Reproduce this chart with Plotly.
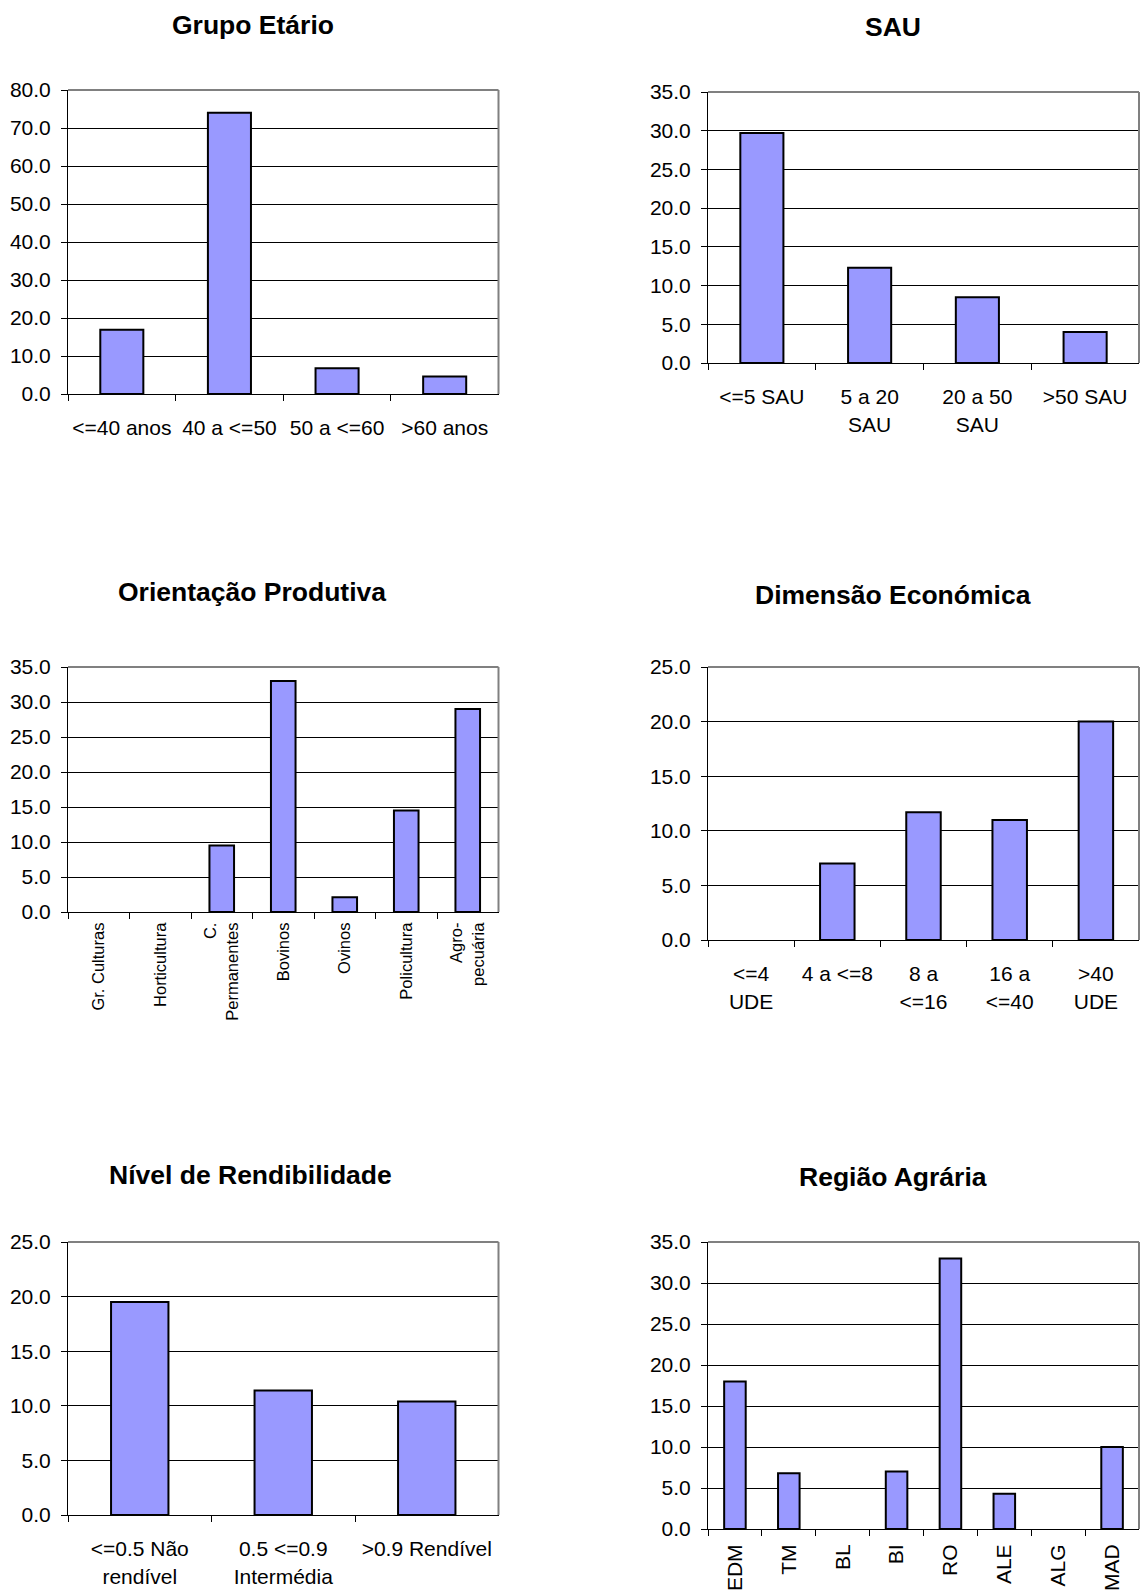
import plotly.graph_objects as go

# ---- data ----
grupo_cats = ["<=40 anos", "40 a <=50", "50 a <=60", ">60 anos"]
grupo_vals = [16.9, 74.0, 6.8, 4.6]

sau_cats = ["<=5 SAU", "5 a 20<br>SAU", "20 a 50<br>SAU", ">50 SAU"]
sau_vals = [29.7, 12.3, 8.5, 4.0]

orient_cats = ["Gr. Culturas", "Horticultura", "C.<br>Permanentes", "Bovinos",
               "Ovinos", "Policultura", "Agro-<br>pecuária"]
orient_vals = [0.0, 0.0, 9.5, 33.0, 2.1, 14.5, 29.0]

dim_cats = ["<=4<br>UDE", "4 a <=8", "8 a<br><=16", "16 a<br><=40", ">40<br>UDE"]
dim_vals = [0.0, 7.0, 11.7, 11.0, 20.0]

rend_cats = ["<=0.5 Não<br>rendível", "0.5 <=0.9<br>Intermédia", ">0.9 Rendível"]
rend_vals = [19.5, 11.4, 10.4]

regiao_cats = ["EDM", "TM", "BL", "BI", "RO", "ALE", "ALG", "MAD"]
regiao_vals = [18.0, 6.8, 0.0, 7.0, 33.0, 4.3, 0.0, 10.0]

titles = ["Grupo Etário", "SAU", "Orientação Produtiva",
          "Dimensão Económica", "Nível de Rendibilidade", "Região Agrária"]

W, H = 1143, 1591
FONT = "Liberation Sans, Arial, sans-serif"

panels = [
    # cats, vals, (x0,x1,ytop,ybot) px, ymax, dtick, tickangle, standoff, title_y, title_x, label font size
    (grupo_cats, grupo_vals, (68, 498.5, 90, 394), 80, 10, 0, 15, 25, 253, 21),
    (sau_cats, sau_vals, (708, 1139, 92, 363), 35, 5, 0, 15, 27, 893, 21),
    (orient_cats, orient_vals, (68, 498.5, 667, 912), 35, 5, -90, 3, 592, 252, 16.5),
    (dim_cats, dim_vals, (708, 1139, 667, 940), 25, 5, 0, 15, 595, 893, 21),
    (rend_cats, rend_vals, (68, 498.5, 1242, 1515), 25, 5, 0, 15, 1175, 250, 21),
    (regiao_cats, regiao_vals, (708, 1139, 1242, 1529), 35, 5, -90, 6, 1177, 893, 21),
]

fig = go.Figure()
layout = dict(
    width=W, height=H,
    margin=dict(l=0, r=0, t=0, b=0, autoexpand=False),
    paper_bgcolor="white", plot_bgcolor="white",
    showlegend=False,
    font=dict(family=FONT, color="black", size=20),
    annotations=[], shapes=[],
)

for i, (cats, vals, (x0, x1, yt, yb), ymax, dt, ang, stand, ty, tx, lfs) in enumerate(panels):
    n = i + 1
    xa = "x" if n == 1 else f"x{n}"
    ya = "y" if n == 1 else f"y{n}"
    fig.add_trace(go.Bar(
        x=cats, y=vals, xaxis=xa, yaxis=ya,
        marker=dict(color="#9999FF",
                    line=dict(color="black", width=[2 if v > 0 else 0 for v in vals])),
        width=0.4,
    ))
    xk = "xaxis" if n == 1 else f"xaxis{n}"
    yk = "yaxis" if n == 1 else f"yaxis{n}"
    layout[xk] = dict(
        domain=[x0 / W, x1 / W], anchor=ya, automargin=False,
        type="category", categoryorder="array", categoryarray=cats,
        showgrid=False, zeroline=False,
        showline=True, linecolor="black", linewidth=1,
        ticks="outside", tickson="boundaries", ticklen=6, tickcolor="black",
        tickangle=ang, ticklabelstandoff=stand,
        tickfont=dict(family=FONT, size=lfs, color="black"),
        fixedrange=True,
    )
    layout[yk] = dict(
        domain=[1 - yb / H, 1 - yt / H], anchor=xa, automargin=False,
        range=[0, ymax], tick0=0, dtick=dt, tickformat=".1f",
        showgrid=True, gridcolor="black", gridwidth=1,
        zeroline=False,
        showline=True, linecolor="black", linewidth=1,
        ticks="outside", ticklen=6, tickcolor="black",
        ticklabelstandoff=6,
        tickfont=dict(family=FONT, size=21, color="black"),
        fixedrange=True,
    )
    # plot-area border (top & right, gray)
    layout["shapes"].append(dict(type="line", xref=f"{xa} domain", yref=f"{ya} domain",
                                 x0=0, x1=1, y0=1, y1=1,
                                 line=dict(color="#808080", width=2), layer="above"))
    layout["shapes"].append(dict(type="line", xref=f"{xa} domain", yref=f"{ya} domain",
                                 x0=1, x1=1, y0=0, y1=1,
                                 line=dict(color="#808080", width=2), layer="above"))
    layout["annotations"].append(dict(
        text=f"<b>{titles[i]}</b>", xref="paper", yref="paper",
        x=tx / W, y=1 - ty / H, xanchor="center", yanchor="middle",
        showarrow=False, font=dict(family=FONT, size=26.5, color="black"),
    ))

fig.update_layout(**layout)
fig.write_html(
    "out.html",
    config={"displayModeBar": False, "staticPlot": True},
    post_script=(
        "var d=document.getElementById('{plot_id}');"
        "d.style.position='fixed';d.style.left='0px';d.style.top='0px';"
        "document.documentElement.style.margin='0';document.body.style.margin='0';"
        "document.documentElement.style.overflow='hidden';document.body.style.overflow='hidden';"
    ),
)
